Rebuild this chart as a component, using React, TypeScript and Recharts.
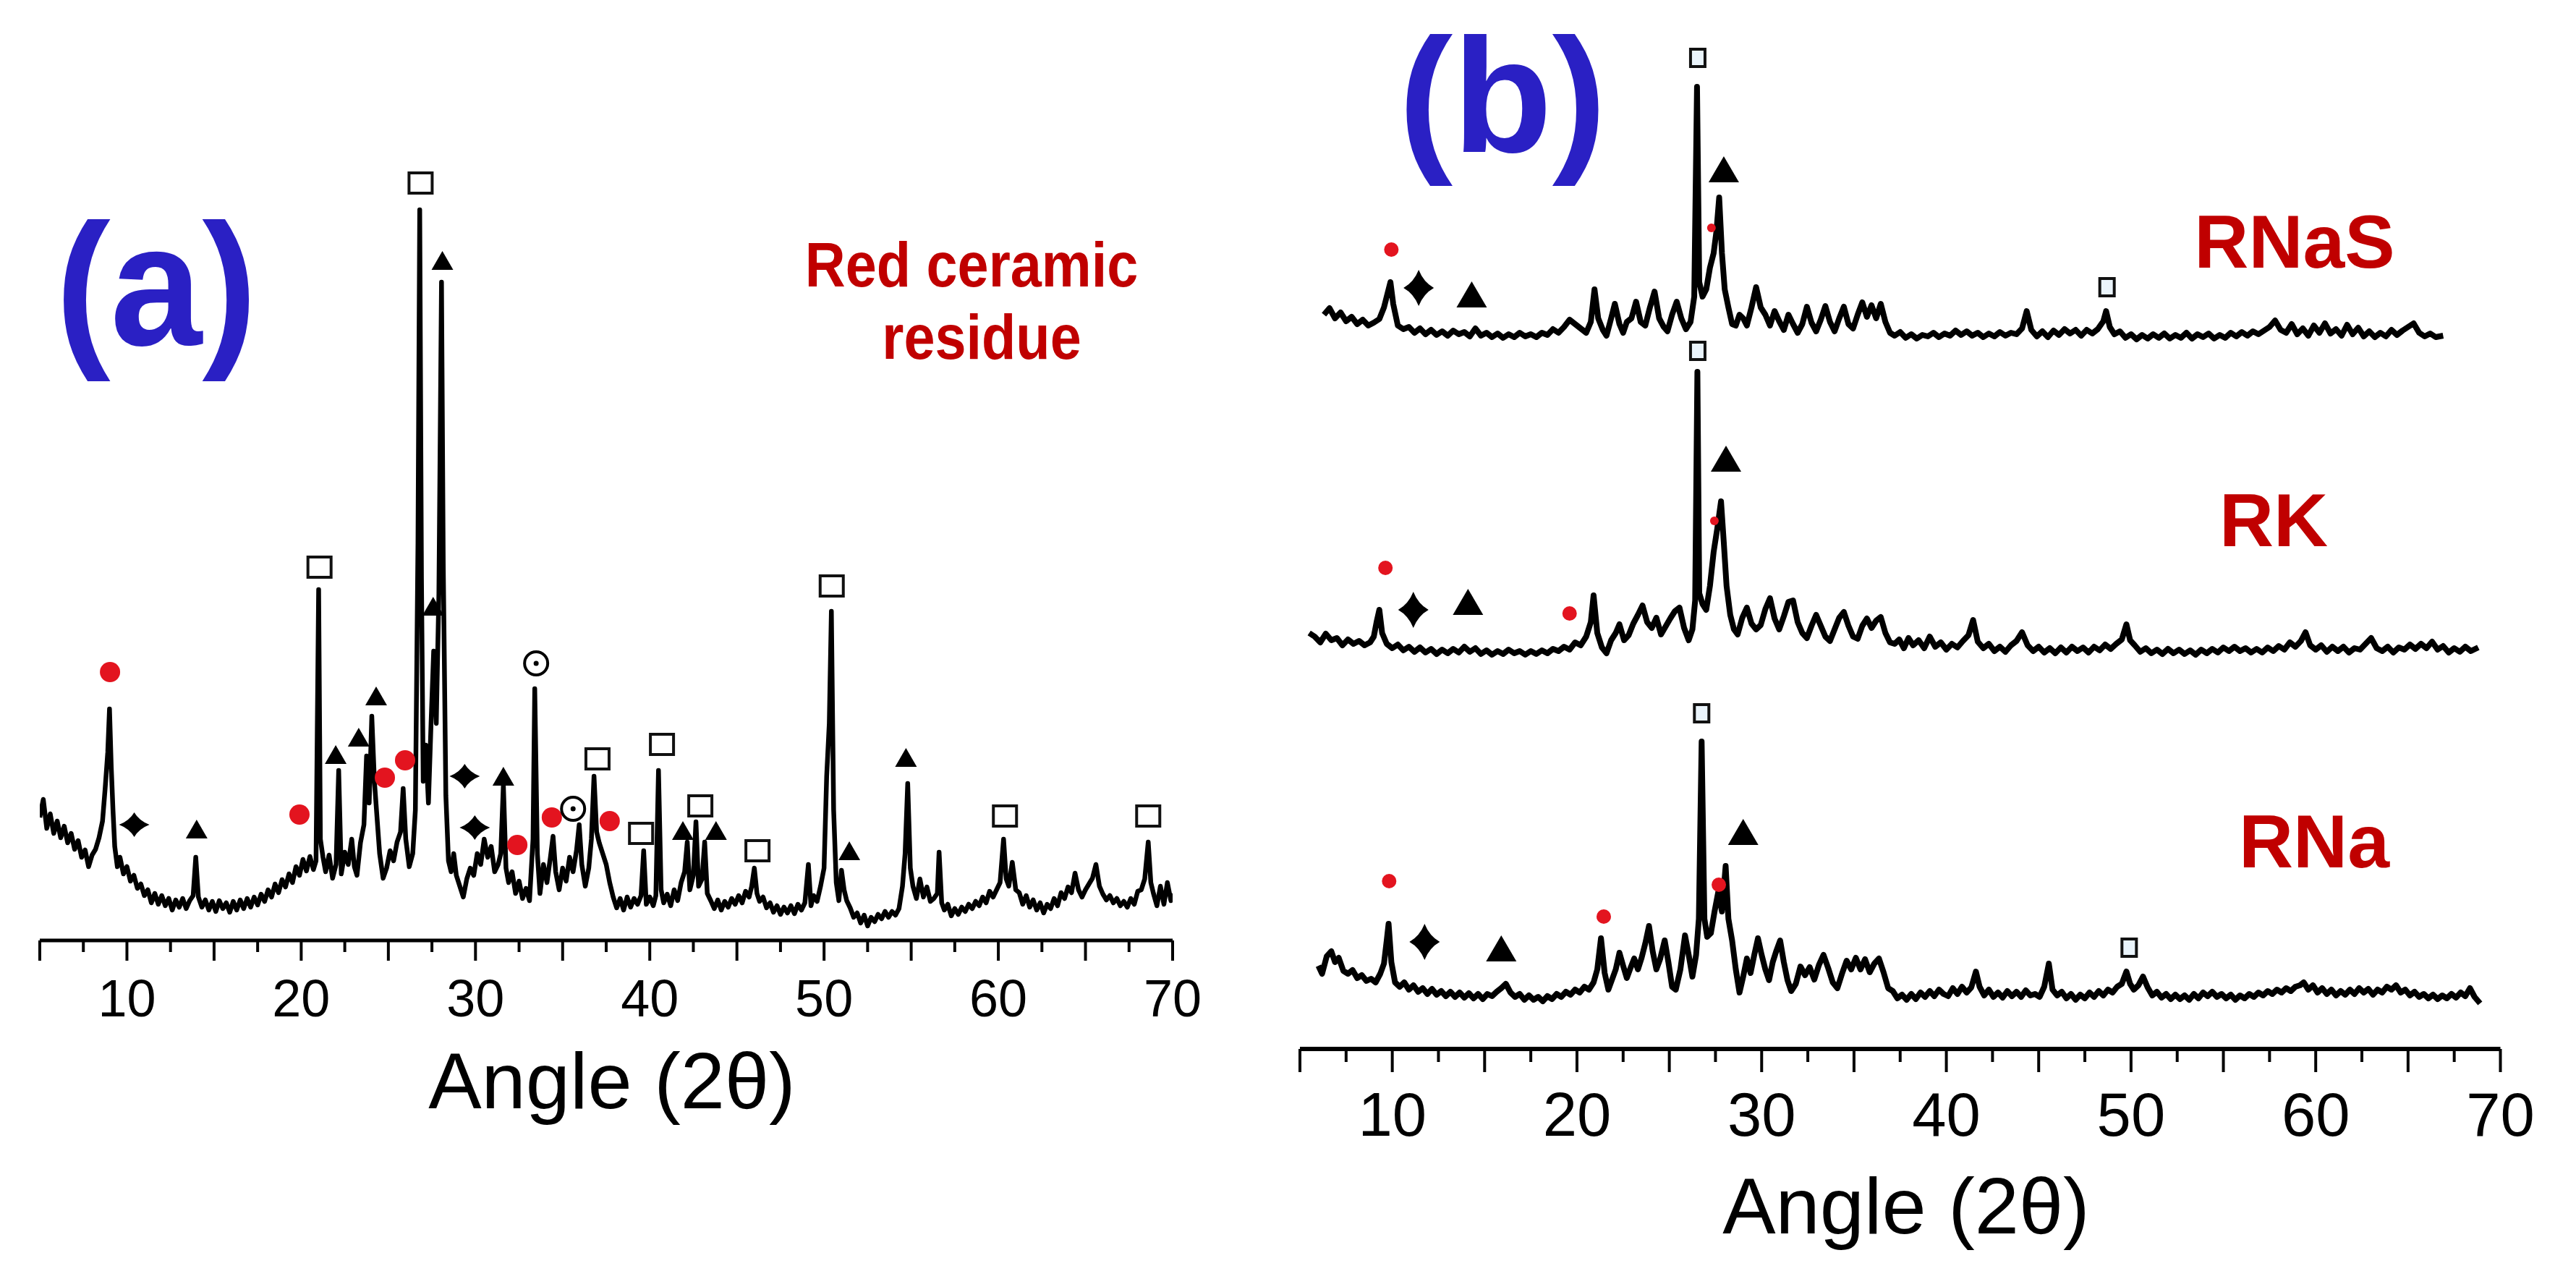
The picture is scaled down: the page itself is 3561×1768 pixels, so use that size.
import React from 'react';
import { ComposedChart, Line, Scatter, XAxis, YAxis } from 'recharts';

const FONT = '"Liberation Sans", Arial, Helvetica, sans-serif';

// ---------- shared axis ----------
const angleTicks = [5, 7.5, 10, 12.5, 15, 17.5, 20, 22.5, 25, 27.5, 30, 32.5, 35, 37.5, 40, 42.5, 45, 47.5, 50, 52.5, 55, 57.5, 60, 62.5, 65, 67.5, 70];
const labeledTicks = [10, 20, 30, 40, 50, 60, 70];
const axisTitle = 'Angle (2θ)';

// ---------- panel (a): red ceramic residue, [2θ, intensity a.u.] ----------
const residueTrace = [
  [5.0, 17], [5.2, 19.5], [5.4, 15.5], [5.6, 17.5], [5.8, 14.8], [6.0, 16.5], [6.2, 14.2], [6.4, 15.8], [6.6, 13.5], [6.8, 14.8],
  [7.0, 12.6], [7.2, 13.8], [7.4, 11.5], [7.6, 12.5], [7.8, 10.2], [8.0, 11.8], [8.2, 12.6], [8.4, 14.2], [8.6, 16.5], [8.75, 21],
  [8.9, 26], [9.0, 32], [9.1, 24], [9.2, 18], [9.3, 13], [9.45, 10.2], [9.6, 11.5], [9.8, 9.2], [10.0, 10.2], [10.2, 8.2],
  [10.4, 9], [10.6, 7.2], [10.8, 7.8], [11.0, 6.2], [11.2, 7], [11.4, 5.2], [11.6, 6.5], [11.8, 5.0], [12.0, 6.2], [12.2, 4.8],
  [12.4, 5.8], [12.6, 4.2], [12.8, 5.6], [13.0, 4.6], [13.2, 5.8], [13.4, 4.4], [13.6, 5.5], [13.8, 6.2], [13.95, 11.5], [14.1, 6],
  [14.3, 4.6], [14.5, 5.6], [14.7, 4.2], [14.9, 5.4], [15.1, 4.0], [15.3, 5.5], [15.5, 4.4], [15.7, 5.2], [15.9, 3.9], [16.1, 5.4],
  [16.3, 4.2], [16.5, 5.6], [16.7, 4.4], [16.9, 5.8], [17.1, 4.6], [17.3, 6], [17.5, 4.9], [17.7, 6.4], [17.9, 5.4], [18.1, 7],
  [18.3, 6], [18.5, 7.8], [18.7, 6.6], [18.9, 8.4], [19.1, 7.4], [19.3, 9.2], [19.5, 8], [19.7, 10.2], [19.9, 9], [20.1, 11.2],
  [20.3, 9.6], [20.5, 11.6], [20.7, 9.8], [20.85, 11], [21.0, 48.5], [21.1, 14], [21.25, 11.5], [21.4, 9.5], [21.6, 11.8], [21.8, 8.6],
  [22.0, 10.5], [22.15, 23.5], [22.3, 9.2], [22.5, 12.2], [22.7, 10.5], [22.9, 14], [23.05, 10.2], [23.2, 9], [23.4, 13.5], [23.6, 16],
  [23.75, 25.5], [23.9, 19], [24.05, 31], [24.2, 22], [24.35, 17], [24.5, 12], [24.7, 8.6], [24.9, 10], [25.1, 12.4], [25.3, 11],
  [25.5, 13.6], [25.7, 15], [25.85, 21], [26.0, 14], [26.2, 10.2], [26.4, 12], [26.55, 18], [26.7, 55], [26.8, 101], [26.9, 50],
  [27.0, 22], [27.15, 27], [27.3, 19], [27.45, 30], [27.6, 40], [27.75, 30], [27.9, 48], [28.05, 91], [28.15, 52], [28.3, 20],
  [28.45, 11], [28.6, 9.5], [28.75, 12], [28.9, 9], [29.1, 7.5], [29.3, 6], [29.5, 8.5], [29.7, 10], [29.9, 9], [30.1, 12],
  [30.3, 10.5], [30.5, 14], [30.7, 11.5], [30.9, 13], [31.1, 9.5], [31.3, 10.5], [31.45, 12], [31.6, 21.5], [31.75, 10], [31.9, 8],
  [32.1, 9.5], [32.3, 6.5], [32.5, 8.2], [32.7, 5.8], [32.9, 7.2], [33.1, 5.5], [33.3, 14], [33.4, 34.8], [33.55, 12], [33.7, 6.5],
  [33.9, 10.5], [34.1, 8], [34.3, 11.5], [34.45, 14.4], [34.6, 9.5], [34.8, 7], [35.0, 10], [35.2, 8.2], [35.4, 11.5], [35.6, 9.5],
  [35.8, 12.5], [35.95, 16], [36.1, 10.5], [36.3, 7.5], [36.5, 10], [36.65, 14], [36.8, 22.7], [36.95, 15], [37.1, 13.5], [37.3, 12],
  [37.5, 10.5], [37.7, 8], [37.9, 6], [38.1, 4.5], [38.3, 5.8], [38.5, 4.2], [38.7, 6], [38.9, 4.6], [39.1, 5.8], [39.3, 5],
  [39.5, 6.2], [39.65, 12.4], [39.8, 5], [40.0, 6], [40.2, 4.8], [40.35, 6.2], [40.5, 23.5], [40.65, 7], [40.8, 5.2], [41.0, 6.4],
  [41.2, 4.8], [41.4, 7], [41.6, 5.5], [41.8, 8], [42.0, 9.5], [42.15, 13.6], [42.3, 7], [42.5, 9], [42.65, 16.4], [42.8, 7.5],
  [43.0, 8.5], [43.15, 13.6], [43.3, 6.5], [43.5, 5.5], [43.7, 4.4], [43.9, 5.6], [44.1, 4.2], [44.3, 5.4], [44.5, 4.6], [44.7, 5.8],
  [44.9, 5], [45.1, 6.2], [45.3, 5.2], [45.5, 6.8], [45.7, 6], [45.85, 7.5], [46.0, 10], [46.15, 6.5], [46.3, 5.4], [46.5, 6],
  [46.7, 4.5], [46.9, 5.2], [47.1, 3.9], [47.3, 4.8], [47.5, 3.6], [47.7, 4.6], [47.9, 3.8], [48.1, 4.8], [48.3, 3.7], [48.5, 5],
  [48.7, 4.2], [48.9, 5.2], [49.1, 10.5], [49.25, 4.8], [49.4, 6.2], [49.6, 5.4], [49.8, 7.5], [50.0, 10], [50.15, 22.7], [50.3, 30],
  [50.42, 45.5], [50.55, 18], [50.7, 8], [50.85, 5.5], [51.0, 9.7], [51.15, 7], [51.3, 5.5], [51.5, 4.5], [51.7, 3.2], [51.9, 3.8],
  [52.1, 2.4], [52.3, 3.5], [52.5, 2], [52.7, 3.2], [52.9, 2.6], [53.1, 3.6], [53.3, 3], [53.5, 4], [53.7, 3.2], [53.9, 4],
  [54.1, 3.5], [54.3, 4.4], [54.5, 7.5], [54.65, 12], [54.8, 21.7], [54.95, 10], [55.1, 7.5], [55.3, 5.8], [55.5, 8.5], [55.7, 6],
  [55.9, 7.4], [56.1, 5.4], [56.3, 5.8], [56.5, 6.5], [56.6, 12.2], [56.75, 5.2], [56.9, 4.2], [57.1, 5], [57.3, 3.4], [57.5, 4.4],
  [57.7, 3.6], [57.9, 4.6], [58.1, 4], [58.3, 5], [58.5, 4.4], [58.7, 5.4], [58.9, 4.8], [59.1, 6], [59.3, 5.2], [59.5, 6.8],
  [59.7, 6], [59.9, 7], [60.1, 8], [60.3, 14], [60.45, 8.5], [60.6, 7.5], [60.8, 10.8], [61.0, 7], [61.2, 6.6], [61.4, 5],
  [61.6, 6.2], [61.8, 4.6], [62.0, 5.6], [62.2, 4.2], [62.4, 5.2], [62.6, 3.8], [62.8, 5], [63.0, 4.4], [63.2, 5.8], [63.4, 4.8],
  [63.6, 6.6], [63.8, 5.8], [64.0, 7.4], [64.2, 6.6], [64.4, 9.3], [64.6, 7], [64.8, 6], [65.0, 7], [65.2, 7.8], [65.4, 8.6],
  [65.6, 10.5], [65.8, 7.5], [66.0, 6.4], [66.2, 5.6], [66.4, 6.2], [66.6, 5.2], [66.8, 5.8], [67.0, 4.8], [67.2, 5.4], [67.4, 4.6],
  [67.6, 5.8], [67.8, 5], [68.0, 6.8], [68.2, 7], [68.4, 8.5], [68.6, 13.6], [68.75, 8], [68.9, 6.5], [69.1, 4.8], [69.3, 7.5],
  [69.5, 5], [69.7, 8], [69.9, 5.5], [70.0, 6.5],
];

// phase markers, panel (a)  [2θ, height]
const aSquares = [[21.05, 51.6], [26.85, 104.7], [37.0, 25.1], [39.5, 14.8], [40.7, 27.1], [42.9, 18.6], [46.18, 12.4], [50.44, 49], [60.38, 17.2], [68.6, 17.2]];
const aTriangles = [[14.0, 15.4], [21.98, 25.7], [23.3, 28.1], [24.3, 33.8], [27.57, 46.2], [28.1, 94], [31.6, 22.7], [41.9, 15.2], [43.8, 15.2], [51.45, 12.4], [54.7, 25.3]];
const aDots = [[9.03, 37.1], [19.9, 17.4], [24.8, 22.5], [25.96, 24.9], [32.4, 13.2], [34.38, 17], [37.7, 16.5]];
const aStars = [[10.42, 16], [29.38, 22.7], [29.96, 15.6]];
const aRings = [[33.48, 38.3], [35.6, 18.2]];

// ---------- panel (b): three samples, stacked ----------
const rnasTrace = [
  [6.3, 101.5], [6.6, 102.4], [6.9, 101], [7.2, 101.8], [7.5, 100.6], [7.8, 101.2], [8.1, 100.2], [8.4, 100.8], [8.7, 100], [9.0, 100.4],
  [9.3, 100.9], [9.55, 102.5], [9.75, 104.5], [9.9, 106], [10.05, 103], [10.3, 100], [10.6, 99.5], [10.9, 99.8], [11.2, 99], [11.5, 99.6],
  [11.8, 98.8], [12.1, 99.4], [12.4, 98.7], [12.7, 99.2], [13.0, 98.6], [13.3, 99.3], [13.6, 98.8], [13.9, 99.1], [14.2, 98.5], [14.5, 99.6],
  [14.8, 98.6], [15.1, 99], [15.4, 98.4], [15.7, 98.9], [16.0, 98.3], [16.3, 98.8], [16.6, 98.4], [16.9, 99], [17.2, 98.5], [17.5, 98.8],
  [17.8, 98.4], [18.1, 99], [18.4, 98.7], [18.7, 99.5], [19.0, 99], [19.3, 99.8], [19.6, 100.8], [19.9, 100.2], [20.2, 99.6], [20.5, 99],
  [20.75, 100.5], [20.95, 105], [21.15, 101], [21.4, 99.4], [21.6, 98.6], [21.85, 101], [22.05, 103], [22.3, 100.2], [22.5, 99], [22.7, 100.5],
  [22.95, 101], [23.2, 103.3], [23.45, 100.5], [23.7, 100], [23.95, 102.5], [24.2, 104.7], [24.45, 101], [24.7, 99.8], [24.9, 99.2], [25.15, 101.5],
  [25.4, 103.3], [25.65, 101], [25.9, 99.5], [26.15, 100.5], [26.35, 104], [26.5, 133], [26.62, 106], [26.8, 104], [27.0, 105], [27.2, 108],
  [27.4, 110], [27.55, 113], [27.7, 117.7], [27.85, 110], [28.0, 105], [28.2, 102.5], [28.4, 100.2], [28.6, 100], [28.8, 101.5], [29.0, 101],
  [29.2, 100], [29.45, 102.5], [29.7, 105.3], [29.95, 102.5], [30.2, 101.5], [30.45, 100], [30.7, 102], [30.95, 100.6], [31.2, 99.4], [31.45, 101.5],
  [31.7, 100.2], [31.95, 99], [32.2, 100.2], [32.45, 102.6], [32.7, 100.4], [32.95, 99.2], [33.2, 100.8], [33.45, 102.7], [33.7, 100.5], [33.95, 99.2],
  [34.2, 101], [34.45, 102.6], [34.7, 100.2], [34.95, 99.6], [35.2, 101.5], [35.45, 103.2], [35.7, 101.2], [35.95, 102.8], [36.2, 101], [36.45, 103],
  [36.7, 100.5], [36.95, 99], [37.2, 98.6], [37.5, 99.1], [37.8, 98.3], [38.1, 98.8], [38.4, 98.2], [38.7, 98.7], [39.0, 98.5], [39.3, 99],
  [39.6, 98.4], [39.9, 98.9], [40.2, 98.6], [40.5, 99.3], [40.8, 98.7], [41.1, 99.2], [41.4, 98.6], [41.7, 99], [42.0, 98.4], [42.3, 98.9],
  [42.6, 98.5], [42.9, 99.1], [43.2, 98.6], [43.5, 99], [43.8, 98.8], [44.1, 99.6], [44.35, 102], [44.6, 99.4], [44.9, 98.5], [45.2, 99.2],
  [45.5, 98.4], [45.8, 99.3], [46.1, 98.7], [46.4, 99.5], [46.7, 98.9], [47.0, 99.4], [47.3, 98.6], [47.6, 99.4], [47.9, 98.9], [48.2, 99.5],
  [48.5, 100.6], [48.65, 102], [48.85, 99.8], [49.1, 98.8], [49.4, 99.2], [49.7, 98.3], [50.0, 98.8], [50.3, 98.1], [50.6, 98.7], [50.9, 98.2],
  [51.2, 98.8], [51.5, 98.3], [51.8, 98.9], [52.1, 98.2], [52.4, 98.7], [52.7, 98.3], [53.0, 99], [53.3, 98.2], [53.6, 98.8], [53.9, 98.4],
  [54.2, 98.9], [54.5, 98.2], [54.8, 98.7], [55.1, 98.3], [55.4, 99], [55.7, 98.5], [56.0, 99.1], [56.3, 98.6], [56.6, 99.2], [56.9, 98.8],
  [57.2, 99.3], [57.5, 99.8], [57.8, 100.7], [58.1, 99.4], [58.4, 99], [58.7, 100.2], [59.0, 98.8], [59.3, 99.6], [59.6, 98.6], [59.9, 100],
  [60.2, 99], [60.5, 100.3], [60.8, 98.9], [61.1, 99.5], [61.4, 98.6], [61.7, 100.1], [62.0, 98.8], [62.3, 99.7], [62.6, 98.5], [62.9, 99.2],
  [63.2, 98.4], [63.5, 99], [63.8, 98.5], [64.1, 99.4], [64.4, 98.7], [64.7, 99.3], [65.0, 99.8], [65.3, 100.3], [65.6, 99], [65.9, 98.5],
  [66.2, 98.9], [66.5, 98.4], [66.9, 98.6],
];

const rkTrace = [
  [5.5, 57.5], [5.8, 57], [6.1, 56.2], [6.4, 57.4], [6.7, 56.5], [7.0, 56.8], [7.3, 55.8], [7.6, 56.6], [7.9, 56], [8.2, 56.4],
  [8.5, 55.8], [8.8, 56.2], [9.0, 57], [9.15, 59], [9.3, 60.7], [9.45, 57.5], [9.7, 56], [10.0, 55.4], [10.3, 55.9], [10.6, 55.1],
  [10.9, 55.6], [11.2, 54.9], [11.5, 55.5], [11.8, 54.8], [12.1, 55.3], [12.4, 54.6], [12.7, 55.2], [13.0, 54.7], [13.3, 55.3], [13.6, 54.8],
  [13.9, 55.6], [14.2, 54.9], [14.5, 55.4], [14.8, 54.6], [15.1, 55.1], [15.4, 54.5], [15.7, 55], [16.0, 54.6], [16.3, 55.2], [16.6, 54.7],
  [16.9, 55], [17.2, 54.5], [17.5, 55], [17.8, 54.6], [18.1, 55.1], [18.4, 54.7], [18.7, 55.3], [19.0, 55], [19.3, 55.6], [19.6, 55.2],
  [19.9, 56.2], [20.2, 55.8], [20.5, 57], [20.75, 59], [20.9, 62.7], [21.1, 57.5], [21.35, 55.5], [21.6, 54.7], [21.85, 56.5], [22.1, 57.5],
  [22.3, 58.7], [22.55, 56.5], [22.8, 57.2], [23.05, 58.8], [23.3, 60], [23.55, 61.3], [23.8, 59], [24.05, 58.2], [24.3, 59.6], [24.55, 57.3],
  [24.8, 58.4], [25.05, 59.5], [25.3, 60.5], [25.55, 61], [25.8, 58.2], [26.05, 56.5], [26.25, 58], [26.4, 62], [26.52, 93.6], [26.62, 63],
  [26.8, 61.5], [27.0, 60.7], [27.2, 64], [27.4, 68.7], [27.6, 72], [27.8, 75.7], [27.95, 70], [28.1, 64], [28.3, 60], [28.5, 58],
  [28.7, 57.3], [28.95, 59.6], [29.2, 61], [29.45, 58.8], [29.7, 58], [29.95, 58.6], [30.2, 60.8], [30.45, 62.3], [30.7, 59.5], [30.95, 58],
  [31.2, 59.8], [31.45, 61.8], [31.7, 62], [31.95, 59], [32.2, 57.5], [32.45, 56.8], [32.7, 58.5], [32.95, 60], [33.2, 58.5], [33.45, 57],
  [33.7, 56.4], [33.95, 58], [34.2, 59.6], [34.45, 60.4], [34.7, 58.5], [34.95, 57], [35.2, 56.7], [35.45, 58.5], [35.7, 59.5], [35.95, 58.2],
  [36.2, 59.2], [36.45, 59.7], [36.7, 57.5], [36.95, 56.2], [37.2, 56], [37.45, 56.6], [37.7, 55.4], [37.95, 56.8], [38.2, 55.8], [38.5, 56.5],
  [38.8, 55.4], [39.1, 57], [39.4, 55.6], [39.7, 56.2], [40.0, 55.2], [40.3, 56], [40.6, 55.5], [40.9, 56.4], [41.2, 57.2], [41.45, 59.3],
  [41.7, 56.3], [42.0, 55.4], [42.3, 56], [42.6, 55], [42.9, 55.6], [43.2, 54.9], [43.5, 55.8], [43.8, 56.4], [44.1, 57.6], [44.4, 55.8],
  [44.7, 55], [45.0, 55.6], [45.3, 54.8], [45.6, 55.4], [45.9, 54.7], [46.2, 55.5], [46.5, 54.8], [46.8, 55.6], [47.1, 55], [47.4, 55.5],
  [47.7, 54.8], [48.0, 55.6], [48.3, 55.1], [48.6, 55.9], [48.9, 55.3], [49.2, 56], [49.5, 56.6], [49.75, 58.7], [49.95, 56.5], [50.2, 55.8],
  [50.5, 54.9], [50.8, 55.4], [51.1, 54.7], [51.4, 55.2], [51.7, 54.6], [52.0, 55.3], [52.3, 54.7], [52.6, 55.2], [52.9, 54.6], [53.2, 55.1],
  [53.5, 54.5], [53.8, 55.2], [54.1, 54.7], [54.4, 55.3], [54.7, 54.8], [55.0, 55.5], [55.3, 55], [55.6, 55.6], [55.9, 55], [56.2, 55.4],
  [56.5, 54.8], [56.8, 55.3], [57.1, 54.8], [57.4, 55.5], [57.7, 55], [58.0, 55.7], [58.3, 55.2], [58.6, 56.2], [58.9, 55.6], [59.2, 56.4],
  [59.45, 57.6], [59.7, 55.8], [60.0, 55.2], [60.3, 55.8], [60.6, 54.9], [60.9, 55.6], [61.2, 55], [61.5, 55.6], [61.8, 54.8], [62.1, 55.4],
  [62.4, 55.2], [62.7, 56], [63.0, 56.8], [63.3, 55.4], [63.6, 55], [63.9, 55.6], [64.2, 54.8], [64.5, 55.5], [64.8, 55.2], [65.1, 55.9],
  [65.4, 55.3], [65.7, 56], [66.0, 55.4], [66.3, 56.3], [66.6, 55.2], [66.9, 55.7], [67.2, 54.8], [67.5, 55.4], [67.8, 54.9], [68.1, 55.6],
  [68.4, 55], [68.8, 55.5],
];

const rnaTrace = [
  [6.0, 11.5], [6.2, 10.4], [6.45, 12.8], [6.7, 13.5], [6.9, 12], [7.1, 12.6], [7.35, 10.8], [7.6, 10.4], [7.85, 10.9], [8.1, 9.8],
  [8.35, 10.2], [8.6, 9.4], [8.85, 9.7], [9.1, 9.2], [9.35, 10.4], [9.55, 11.8], [9.7, 15], [9.8, 17.3], [9.95, 12], [10.15, 9.2],
  [10.4, 8.6], [10.65, 9.2], [10.9, 8.2], [11.15, 8.8], [11.4, 7.9], [11.65, 8.4], [11.9, 7.6], [12.15, 8.3], [12.4, 7.5], [12.65, 8],
  [12.9, 7.3], [13.15, 7.9], [13.4, 7.2], [13.65, 7.8], [13.9, 7.1], [14.15, 7.7], [14.4, 7], [14.65, 7.6], [14.9, 6.9], [15.15, 7.6],
  [15.4, 7.3], [15.65, 7.9], [15.9, 8.4], [16.15, 9], [16.4, 7.8], [16.65, 7.2], [16.9, 7.6], [17.15, 6.8], [17.4, 7.4], [17.65, 6.8],
  [17.9, 7.2], [18.15, 6.6], [18.4, 7.3], [18.65, 6.9], [18.9, 7.6], [19.15, 7.2], [19.4, 7.9], [19.65, 7.5], [19.9, 8.2], [20.15, 7.8],
  [20.4, 8.6], [20.65, 8.2], [20.9, 9.2], [21.1, 11], [21.3, 15.3], [21.5, 10.5], [21.7, 8.2], [21.9, 9.6], [22.1, 11], [22.3, 13.3],
  [22.5, 11.5], [22.7, 9.8], [22.9, 11.2], [23.1, 12.5], [23.3, 11], [23.5, 12.6], [23.7, 14.6], [23.9, 17], [24.1, 13.5], [24.3, 11],
  [24.5, 12.4], [24.75, 15], [24.95, 12], [25.15, 8.6], [25.35, 8.2], [25.6, 11], [25.85, 15.7], [26.05, 13], [26.25, 10], [26.45, 13],
  [26.6, 18], [26.75, 42.5], [26.9, 18], [27.05, 15.5], [27.25, 16], [27.45, 19], [27.65, 21.7], [27.85, 19], [28.05, 25.3], [28.2, 18],
  [28.4, 15], [28.6, 11], [28.8, 7.8], [29.0, 10], [29.2, 12.5], [29.4, 10.5], [29.6, 13], [29.8, 15.3], [30.0, 13], [30.2, 11],
  [30.4, 9.5], [30.6, 12], [30.8, 13.6], [31.0, 15], [31.2, 12], [31.4, 9.5], [31.6, 8], [31.85, 9], [32.1, 11.4], [32.35, 10.2],
  [32.6, 11.3], [32.85, 9.6], [33.1, 11.6], [33.35, 13], [33.6, 11.2], [33.85, 9.2], [34.1, 8.4], [34.35, 10.4], [34.6, 12.2], [34.85, 11],
  [35.1, 12.6], [35.35, 11], [35.6, 12.4], [35.85, 10.6], [36.1, 11.8], [36.35, 12.5], [36.6, 10.6], [36.85, 8.4], [37.1, 8], [37.35, 7],
  [37.6, 7.5], [37.85, 6.8], [38.1, 7.6], [38.35, 6.9], [38.6, 7.8], [38.85, 7.2], [39.1, 8], [39.35, 7.3], [39.6, 8.2], [39.85, 7.6],
  [40.1, 7.3], [40.35, 8.4], [40.6, 7.6], [40.85, 8.6], [41.1, 7.8], [41.35, 8.5], [41.6, 10.7], [41.8, 8.6], [42.05, 7.4], [42.3, 8.2],
  [42.55, 7.2], [42.8, 7.8], [43.05, 7.1], [43.3, 8], [43.55, 7.3], [43.8, 7.9], [44.05, 7.2], [44.3, 8.1], [44.55, 7.4], [44.8, 7.6],
  [45.05, 7.2], [45.3, 8.6], [45.55, 11.8], [45.75, 8.2], [46.0, 7.4], [46.25, 7.9], [46.5, 7], [46.75, 7.6], [47.0, 6.8], [47.25, 7.5],
  [47.5, 7], [47.75, 7.8], [48.0, 7.2], [48.25, 8], [48.5, 7.4], [48.75, 8.2], [49.0, 7.8], [49.25, 8.6], [49.5, 9], [49.75, 10.7],
  [49.95, 9], [50.15, 8.2], [50.4, 8.8], [50.65, 10], [50.9, 8.5], [51.15, 7.4], [51.4, 7.9], [51.65, 7.1], [51.9, 7.6], [52.15, 6.9],
  [52.4, 7.5], [52.65, 6.9], [52.9, 7.4], [53.15, 6.8], [53.4, 7.6], [53.65, 7], [53.9, 7.8], [54.15, 7.3], [54.4, 7.9], [54.65, 7.2],
  [54.9, 7.6], [55.15, 7], [55.4, 7.5], [55.65, 6.8], [55.9, 7.4], [56.15, 7], [56.4, 7.6], [56.65, 7.2], [56.9, 7.8], [57.15, 7.4],
  [57.4, 8], [57.65, 7.6], [57.9, 8.2], [58.15, 7.8], [58.4, 8.4], [58.65, 8], [58.9, 8.6], [59.15, 8.8], [59.35, 9.2], [59.6, 8.2],
  [59.85, 8.8], [60.1, 7.8], [60.35, 8.4], [60.6, 7.6], [60.85, 8.2], [61.1, 7.4], [61.35, 8], [61.6, 7.5], [61.85, 8.2], [62.1, 7.6],
  [62.35, 8.4], [62.6, 7.8], [62.85, 8.3], [63.1, 7.5], [63.35, 8.2], [63.6, 7.8], [63.85, 8.6], [64.1, 8.2], [64.35, 8.8], [64.6, 7.8],
  [64.85, 8.2], [65.1, 7.4], [65.35, 7.9], [65.6, 7.2], [65.85, 7.6], [66.1, 7], [66.35, 7.5], [66.6, 6.9], [66.85, 7.4], [67.1, 7],
  [67.35, 7.6], [67.6, 7.1], [67.85, 7.8], [68.1, 7.3], [68.35, 8.4], [68.6, 7.2], [68.9, 6.3],
];

const bSquares = [[26.54, 137], [48.7, 105.3], [26.54, 96.5], [26.75, 46.4], [49.9, 14]];
const bTriangles = [[14.3, 104.3], [27.95, 121.6], [14.1, 61.8], [28.07, 81.6], [15.9, 13.9], [29.0, 30]];
const bDots = [[9.95, 110.5], [9.63, 66.5], [19.6, 60.2], [9.83, 23.2], [21.45, 18.3], [27.68, 22.7]];
const bSmallDots = [[27.28, 113.5], [27.44, 73]];
const bStars = [[11.43, 105.2], [11.14, 60.7], [11.75, 14.8]];

const sampleNames = ['RNaS', 'RK', 'RNa'];
const panelTitles = ['(a)', '(b)'];
const residueTitle = ['Red ceramic', 'residue'];

// ---------- helpers ----------
const toPts = (arr: number[][]) => arr.map(([x, y]) => ({ x, y }));

const BLUE = '#2a20c4';
const DARKRED = '#c00000';
const RED = '#e3141f';

const makeSquare = (w: number, h: number, sw: number, fill: string) => (p: any) => (
  <rect x={p.cx - w / 2} y={p.cy - h / 2} width={w} height={h} fill={fill} stroke="#111" strokeWidth={sw} />
);
const makeTriangle = (w: number, h: number) => (p: any) => (
  <polygon points={`${p.cx},${p.cy - h / 2} ${p.cx + w / 2},${p.cy + h / 2} ${p.cx - w / 2},${p.cy + h / 2}`} fill="#000" />
);
const makeDot = (r: number) => (p: any) => <circle cx={p.cx} cy={p.cy} r={r} fill={RED} />;
const makeStar = (w: number, h: number) => (p: any) => {
  const { cx, cy } = p;
  const k = 0.16;
  const d = `M${cx},${cy - h / 2} Q${cx + w * k},${cy - h * k} ${cx + w / 2},${cy} Q${cx + w * k},${cy + h * k} ${cx},${cy + h / 2} Q${cx - w * k},${cy + h * k} ${cx - w / 2},${cy} Q${cx - w * k},${cy - h * k} ${cx},${cy - h / 2} Z`;
  return <path d={d} fill="#000" />;
};
const makeRing = (r: number) => (p: any) => (
  <g>
    <circle cx={p.cx} cy={p.cy} r={r} fill="#fff" stroke="#000" strokeWidth={4} />
    <circle cx={p.cx} cy={p.cy} r={3.5} fill="#000" />
  </g>
);

const makeTick = (longLen: number, shortLen: number, sw: number, labelDy: number, fontSize: number) => (props: any) => {
  const { x, y, payload } = props;
  const v = payload.value;
  const major = Math.abs(v / 5 - Math.round(v / 5)) < 1e-6;
  const labeled = labeledTicks.includes(v);
  return (
    <g>
      <line x1={x} x2={x} y1={y} y2={y + (major ? longLen : shortLen)} stroke="#000" strokeWidth={sw} />
      {labeled && (
        <text x={x} y={y + labelDy} textAnchor="middle" fontSize={fontSize} fontFamily={FONT} fill="#000">
          {v}
        </text>
      )}
    </g>
  );
};

const tickA = makeTick(28, 16, 4, 105, 72);
const tickB = makeTick(32, 18, 4, 120, 85);

export default function App() {
  const residuePts = toPts(residueTrace);
  return (
    <div style={{ position: 'absolute', left: 0, top: 0, width: 3561, height: 1768, background: '#fff', overflow: 'hidden' }}>
      <div style={{ position: 'absolute', left: 0, top: 0 }}>
        <ComposedChart width={1700} height={1768} margin={{ top: 200, right: 79, bottom: 268, left: 55 }}>
          <XAxis type="number" dataKey="x" domain={[5, 70]} ticks={angleTicks} interval={0} height={200}
            tickSize={0} tickMargin={0} tickLine={false} axisLine={{ stroke: '#000', strokeWidth: 5 }} tick={tickA} allowDataOverflow />
          <YAxis type="number" domain={[0, 110]} hide allowDataOverflow />
          <Line data={residuePts} dataKey="y" type="linear" dot={false} stroke="#000" strokeWidth={6.5} strokeLinejoin="round" isAnimationActive={false} />
          <Scatter data={toPts(aSquares)} dataKey="y" shape={makeSquare(32, 28, 4, '#fff')} isAnimationActive={false} />
          <Scatter data={toPts(aTriangles)} dataKey="y" shape={makeTriangle(30, 26)} isAnimationActive={false} />
          <Scatter data={toPts(aDots)} dataKey="y" shape={makeDot(14)} isAnimationActive={false} />
          <Scatter data={toPts(aStars)} dataKey="y" shape={makeStar(42, 34)} isAnimationActive={false} />
          <Scatter data={toPts(aRings)} dataKey="y" shape={makeRing(16)} isAnimationActive={false} />
        </ComposedChart>
      </div>
      <div style={{ position: 'absolute', left: 1700, top: 0 }}>
        <ComposedChart width={1861} height={1768} margin={{ top: 0, right: 104.5, bottom: 118, left: 97 }}>
          <XAxis type="number" dataKey="x" domain={[5, 70]} ticks={angleTicks} interval={0} height={200}
            tickSize={0} tickMargin={0} tickLine={false} axisLine={{ stroke: '#000', strokeWidth: 6 }} tick={tickB} allowDataOverflow />
          <YAxis type="number" domain={[0, 145]} hide allowDataOverflow />
          <Line data={toPts(rnasTrace)} dataKey="y" type="linear" dot={false} stroke="#000" strokeWidth={8} strokeLinejoin="round" isAnimationActive={false} />
          <Line data={toPts(rkTrace)} dataKey="y" type="linear" dot={false} stroke="#000" strokeWidth={8} strokeLinejoin="round" isAnimationActive={false} />
          <Line data={toPts(rnaTrace)} dataKey="y" type="linear" dot={false} stroke="#000" strokeWidth={8} strokeLinejoin="round" isAnimationActive={false} />
          <Scatter data={toPts(bSquares)} dataKey="y" shape={makeSquare(20, 24, 4, '#eaf4fb')} isAnimationActive={false} />
          <Scatter data={toPts(bTriangles)} dataKey="y" shape={makeTriangle(42, 36)} isAnimationActive={false} />
          <Scatter data={toPts(bDots)} dataKey="y" shape={makeDot(10)} isAnimationActive={false} />
          <Scatter data={toPts(bSmallDots)} dataKey="y" shape={makeDot(6)} isAnimationActive={false} />
          <Scatter data={toPts(bStars)} dataKey="y" shape={makeStar(42, 50)} isAnimationActive={false} />
        </ComposedChart>
      </div>
      <svg width={3561} height={1768} style={{ position: 'absolute', left: 0, top: 0, pointerEvents: 'none' }}>
        <g fontFamily={FONT} fontWeight="bold" textAnchor="middle">
          <text transform="translate(216,477) scale(0.95,1)" fontSize={240} fill={BLUE}>{panelTitles[0]}</text>
          <text x={2077} y={210} fontSize={225} fill={BLUE}>{panelTitles[1]}</text>
          <text transform="translate(1343,396) scale(0.88,1)" fontSize={88} fill={DARKRED}>{residueTitle[0]}</text>
          <text transform="translate(1357,496) scale(0.88,1)" fontSize={88} fill={DARKRED}>{residueTitle[1]}</text>
          <text x={3172} y={370} fontSize={104} fill={DARKRED}>{sampleNames[0]}</text>
          <text x={3143} y={755} fontSize={104} fill={DARKRED}>{sampleNames[1]}</text>
          <text x={3199} y={1199} fontSize={104} fill={DARKRED}>{sampleNames[2]}</text>
        </g>
        <g fontFamily={FONT} textAnchor="middle" fill="#000">
          <text x={846} y={1532} fontSize={110}>{axisTitle}</text>
          <text x={2635} y={1705} fontSize={110}>{axisTitle}</text>
        </g>
      </svg>
    </div>
  );
}
